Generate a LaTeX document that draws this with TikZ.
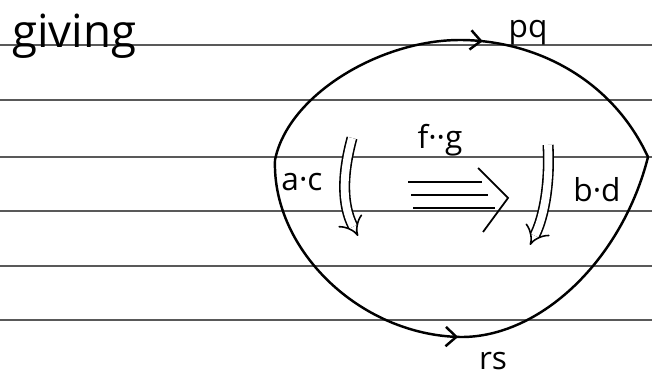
\documentclass[tikz,border=0pt]{standalone}
\usepackage{fontspec}
\setmainfont{Open Sans}
\usetikzlibrary{arrows.meta,decorations.markings}
\begin{document}
\begin{tikzpicture}[x=0.02cm, y=-0.02cm, line width=1.4pt,
  every node/.style={font=\fontsize{18}{20}\selectfont},
  rule/.style={black!65, line width=1.3pt},
  midarrow/.style={postaction={decorate}, decoration={markings,
    mark=at position #1 with {\arrow{Straight Barb[length=6pt,width=11pt]}}}},
  twocell/.style={line width=0.9pt, double, double distance=4.5pt, -{Implies[scale=2]}}]
\useasboundingbox[fill=white] (0,0) rectangle (652,381);
\foreach \y in {45,100,157,211,266,320} \draw[rule] (0,\y) -- (652,\y);
\coordinate (L) at (275,160); \coordinate (R) at (648,157);
\coordinate (T) at (460,40); \coordinate (B) at (460,337);
\draw[midarrow=0.55] (L) .. controls (288,95) and (380,40) .. (T) .. controls (530,40) and (610,75) .. (R);
\draw[midarrow=0.5] (L) .. controls (272,250) and (360,335) .. (B) .. controls (540,338) and (622,260) .. (R);
\node[anchor=base west, font=\fontsize{26}{30}\selectfont] (giving) at (5,48) {giving};
\node (pq) at (528,33) {pq};
\node (rs) at (493,361) {rs};
\node (ac) at (302,182) {a·c};
\node (bd) at (597,190) {b·d};
\node (fg) at (440,140) {f··g};
\coordinate (acs) at (352,138); \coordinate (act) at (358,236);
\draw[twocell] (acs) .. controls (342,175) and (342,205) .. (act);
\coordinate (bds) at (548,145); \coordinate (bdt) at (530,245);
\draw[twocell] (bds) .. controls (550,180) and (545,215) .. (bdt);
\coordinate (fgs) at (411,195); \coordinate (fge) at (488,195); \coordinate (fgt) at (508,198);
\draw[line width=1pt] ([shift={(-3,-13)}]fgs) -- ([shift={(-6,-13)}]fge);
\draw[line width=1pt] (fgs) -- (fge);
\draw[line width=1pt] ([shift={(2,13)}]fgs) -- ([shift={(7,13)}]fge);
\draw[line width=1pt] ([shift={(-30,-30)}]fgt) -- (fgt) -- ([shift={(-25,34)}]fgt);
\end{tikzpicture}
\end{document}
